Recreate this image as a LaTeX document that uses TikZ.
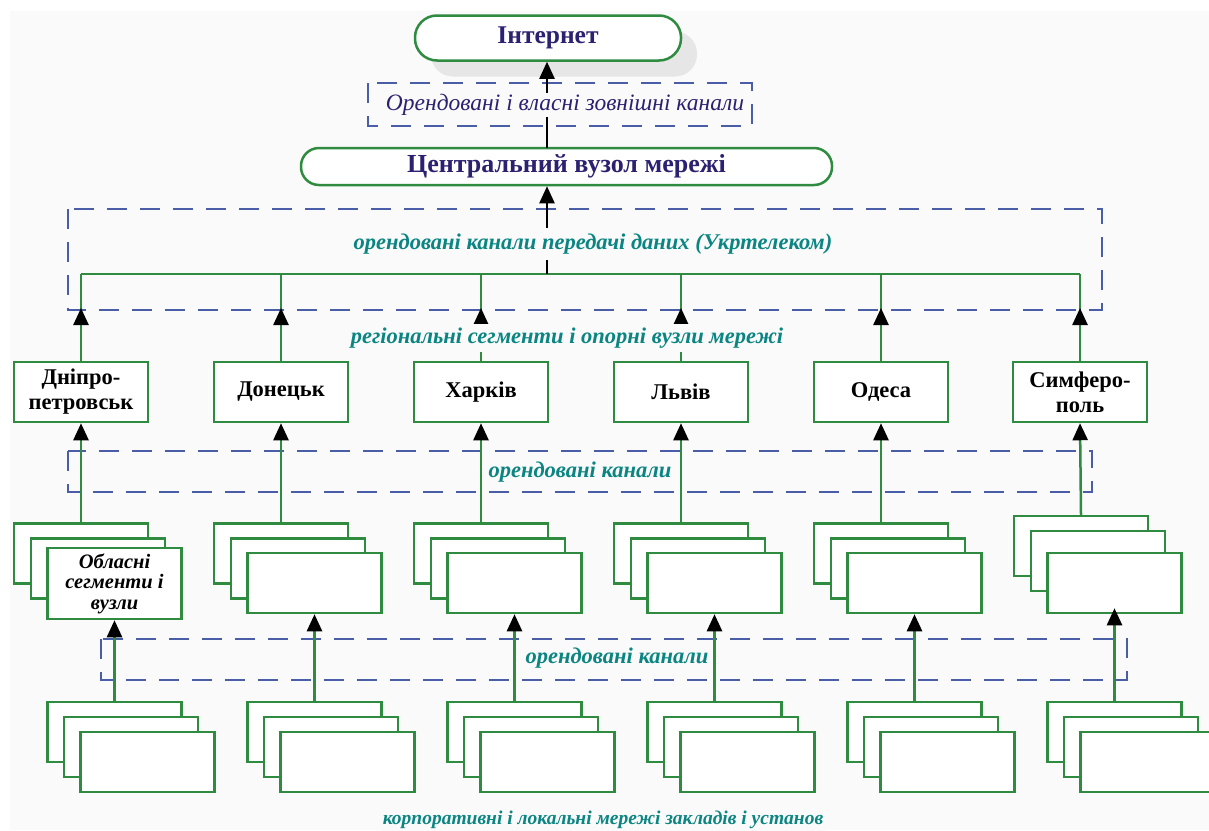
\documentclass[tikz,border=0pt]{standalone}
\usepackage{fontspec}
\setmainfont{Liberation Serif}
\usetikzlibrary{arrows.meta,calc}
\definecolor{bg}{HTML}{FAFAFA}
\definecolor{grn}{HTML}{2E8B40}
\definecolor{dsh}{HTML}{4A5EA8}
\definecolor{navy}{HTML}{2B2170}
\definecolor{tealc}{HTML}{0A8582}
\definecolor{shad}{HTML}{E6E6E6}
\begin{document}
\begin{tikzpicture}[x=1pt,y=-1pt,
  gbox/.style={draw=grn, line width=2.5pt, fill=white, inner sep=0pt, minimum width=134pt, minimum height=60pt},
  pill/.style={draw=grn, line width=2.5pt, fill=white, inner sep=0pt},
  dbox/.style={draw=dsh, line width=1.5pt, dash pattern=on 20pt off 13pt},
  lbl/.style={font=\fontsize{22.5}{24}\selectfont\bfseries\itshape, text=tealc, fill=bg, inner xsep=2pt, inner ysep=4pt},
  arr/.style={line width=2.3pt, -{Triangle[length=17pt,width=15pt]}},
  garr/.style={draw=grn, line width=2.5pt, -{Triangle[length=17pt,width=15pt,color=black]}},
  gline/.style={draw=grn, line width=2.5pt},
  cityf/.style={font=\fontsize{22.5}{25}\selectfont\bfseries, align=center}
]
\useasboundingbox (0,0) rectangle (1209,830);
\fill[bg] (10,11) rectangle (1209,830);

% top nodes
\node[fill=shad, rounded corners=22pt, minimum width=266pt, minimum height=45pt, inner sep=0pt] (ishadow) at (564,54) {};
\node[pill, rounded corners=22pt, minimum width=266pt, minimum height=45pt, font=\fontsize{25.5}{27}\selectfont\bfseries, text=navy] (inet) at (548,38) {Інтернет};
\node[pill, rounded corners=18pt, minimum width=531pt, minimum height=37pt, font=\fontsize{26}{28}\selectfont\bfseries, text=navy] (central) at (566.5,166.5) {Центральний вузол мережі};
\coordinate (cin) at (547,148);

% dashed boxes
\draw[dbox] (368,83) rectangle (752,126);
\draw[dbox] (68,209) rectangle (1102,310);
\draw[dbox] (68,451) rectangle (1092,492);
\draw[dbox] (101,639) rectangle (1127,680);

% central -> internet
\draw[arr] (cin) -- (cin |- inet.south);

% bus
\coordinate (busL) at (81,274);
\coordinate (busR) at (1080,274);
\coordinate (busM) at (547,274);
\draw[gline] (busL) -- (busR);
\draw[arr] (busM) -- (busM |- central.south);

% cities
\node[gbox, cityf] (c1) at (81,392) {Дніпро-\\петровськ};
\node[gbox, cityf] (c2) at (281,392) {Донецьк};
\node[gbox, cityf] (c3) at (481,392) {Харків};
\node[gbox, cityf] (c4) at (681,392) {Львів};
\node[gbox, cityf] (c5) at (881,392) {Одеса};
\node[gbox, cityf] (c6) at (1080,392) {Симферо-\\поль};

\foreach \i in {1,...,6}{
  \draw[gline] (c\i.north) -- (c\i.north |- busL);
  \draw[garr] (c\i.north) -- ($(c\i.north |- busL)+(0,34)$);
}

% tier 2 stacks
\foreach \i/\yb/\ym in {1/553.5/568.5, 2/553.5/568.5, 3/553.5/568.5, 4/553.5/568.5, 5/553.5/568.5, 6/546/561}{
  \pgfmathsetmacro{\dx}{200*(\i-1)}
  \node[gbox] (tb\i) at (81+\dx,\yb) {};
  \node[gbox] (tm\i) at (98+\dx,\ym) {};
}
\node[gbox, minimum height=71pt, font=\fontsize{20.5}{20.5}\selectfont\bfseries\itshape, align=center] (tf1) at (114.5,583.5) {Обласні\\сегменти і\\вузли};
\foreach \i in {2,...,6}{
  \pgfmathsetmacro{\dx}{200*(\i-1)}
  \node[gbox] (tf\i) at (114.5+\dx,583) {};
}
\foreach \i in {1,...,6}{
  \draw[garr] (tb\i.north) -- (c\i.south);
}

% tier 3 stacks
\foreach \i in {1,...,6}{
  \pgfmathsetmacro{\dx}{200*(\i-1)}
  \node[gbox] (bb\i) at (114.5+\dx,732) {};
  \node[gbox] (bm\i) at (131+\dx,747) {};
  \node[gbox] (bf\i) at (147.5+\dx,762) {};
}
\foreach \i in {1,...,5}{
  \draw[garr] (bb\i.north) -- (tf\i.south);
}
\draw[garr, shorten >=-6pt] (bb6.north) -- (tf6.south);

% labels
\node[fill=bg, inner xsep=2pt, inner ysep=1pt, font=\fontsize{23.5}{25}\selectfont\itshape, text=navy] (lext) at (565,105) {Орендовані і власні зовнішні канали};
\node[lbl, inner ysep=6pt] (lukr) at (593,244) {орендовані канали передачі даних (Укртелеком)};
\node[lbl] (lreg) at (567,338) {регіональні сегменти і опорні вузли мережі};
\node[lbl] (lor1) at (580,472) {орендовані канали};
\node[lbl] (lor2) at (617,658) {орендовані канали};
\node[lbl, font=\fontsize{19.5}{21}\selectfont\bfseries\itshape] (lcorp) at (603,820) {корпоративні і локальні мережі закладів і установ};
\end{tikzpicture}
\end{document}
